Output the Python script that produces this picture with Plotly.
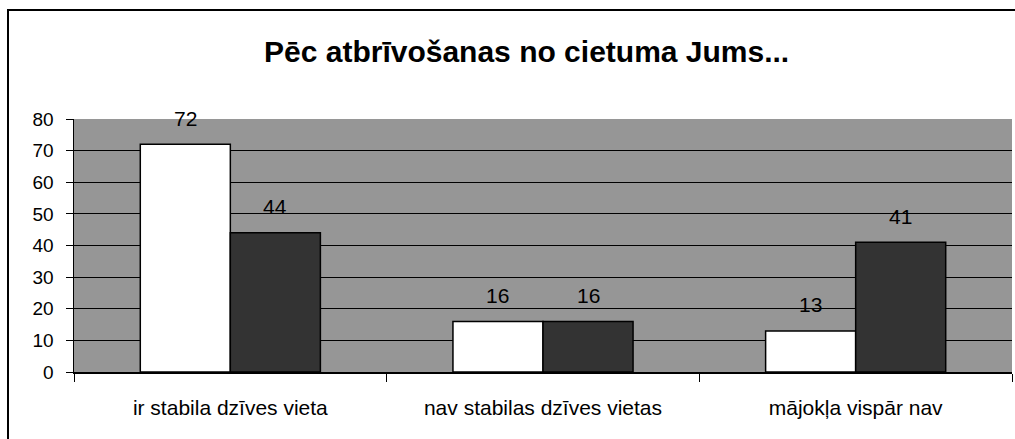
import plotly.graph_objects as go

# ---- data ----
categories = ["ir stabila dzīves vieta", "nav stabilas dzīves vietas", "mājokļa vispār nav"]
series_a = [72, 16, 13]
series_b = [44, 16, 41]
y_ticks = [0, 10, 20, 30, 40, 50, 60, 70, 80]
title_text = "Pēc atbrīvošanas no cietuma Jums..."

# ---- layout constants (pixels) ----
W, H = 1015, 439
L, R, T, B = 74, 3, 119, 67
plot_w = W - L - R
plot_h = H - T - B
bargap = 0.424
bar_px = plot_w / len(categories) * (1 - bargap) / 2

FONT = "Liberation Sans, Arial, sans-serif"

fig = go.Figure()
fig.add_trace(go.Bar(x=categories, y=series_a, marker=dict(color="#ffffff", line=dict(color="#000000", width=1.5)),
                     hoverinfo="skip"))
fig.add_trace(go.Bar(x=categories, y=series_b, marker=dict(color="#333333", line=dict(color="#000000", width=1.5)),
                     hoverinfo="skip"))

annotations = []
for vals, sign in ((series_a, -1), (series_b, 1)):
    for c, v in zip(categories, vals):
        annotations.append(dict(x=c, y=v, xref="x", yref="y", text=str(v), showarrow=False,
                                xshift=sign * bar_px / 2, yshift=26, yanchor="middle",
                                font=dict(family=FONT, size=21, color="#000000")))

annotations.append(dict(x=(526 - L) / plot_w, y=(H - B - 51) / plot_h, xref="paper", yref="paper",
                        text="<b>" + title_text + "</b>", showarrow=False, xanchor="center", yanchor="middle",
                        font=dict(family=FONT, size=30, color="#000000")))

# outer chart frame (extends past right and bottom edge)
fx0 = (8 - L) / plot_w
fx1 = (W + 20 - L) / plot_w
fy1 = (H - B - 10) / plot_h
fy0 = (H - B - (H + 20)) / plot_h
shapes = [dict(type="rect", xref="paper", yref="paper", x0=fx0, x1=fx1, y0=fy0, y1=fy1,
               line=dict(color="#000000", width=2), fillcolor="rgba(0,0,0,0)", layer="below")]

fig.update_layout(
    width=W, height=H,
    margin=dict(l=L, r=R, t=T, b=B, pad=0),
    paper_bgcolor="#ffffff", plot_bgcolor="#969696",
    barmode="group", bargap=bargap, bargroupgap=0,
    showlegend=False,
    annotations=annotations, shapes=shapes,
    font=dict(family=FONT, color="#000000"),
)
fig.update_xaxes(showline=True, linecolor="#000000", linewidth=1.5, ticks="outside", tickson="boundaries",
                 ticklen=8, tickcolor="#000000", tickwidth=1, showgrid=False,
                 tickfont=dict(family=FONT, size=21), ticklabelstandoff=16)
fig.update_yaxes(range=[0, 80], tickvals=y_ticks, showline=True, linecolor="#000000", linewidth=1.5,
                 ticks="outside", ticklen=7, tickcolor="#000000", showgrid=True, gridcolor="#000000",
                 gridwidth=1, zeroline=False, tickfont=dict(family=FONT, size=19), ticklabelstandoff=8)

fig.write_html("out.html", config={"displayModeBar": False, "staticPlot": True},
               post_script="document.body.style.margin='0';document.body.style.overflow='hidden';")
